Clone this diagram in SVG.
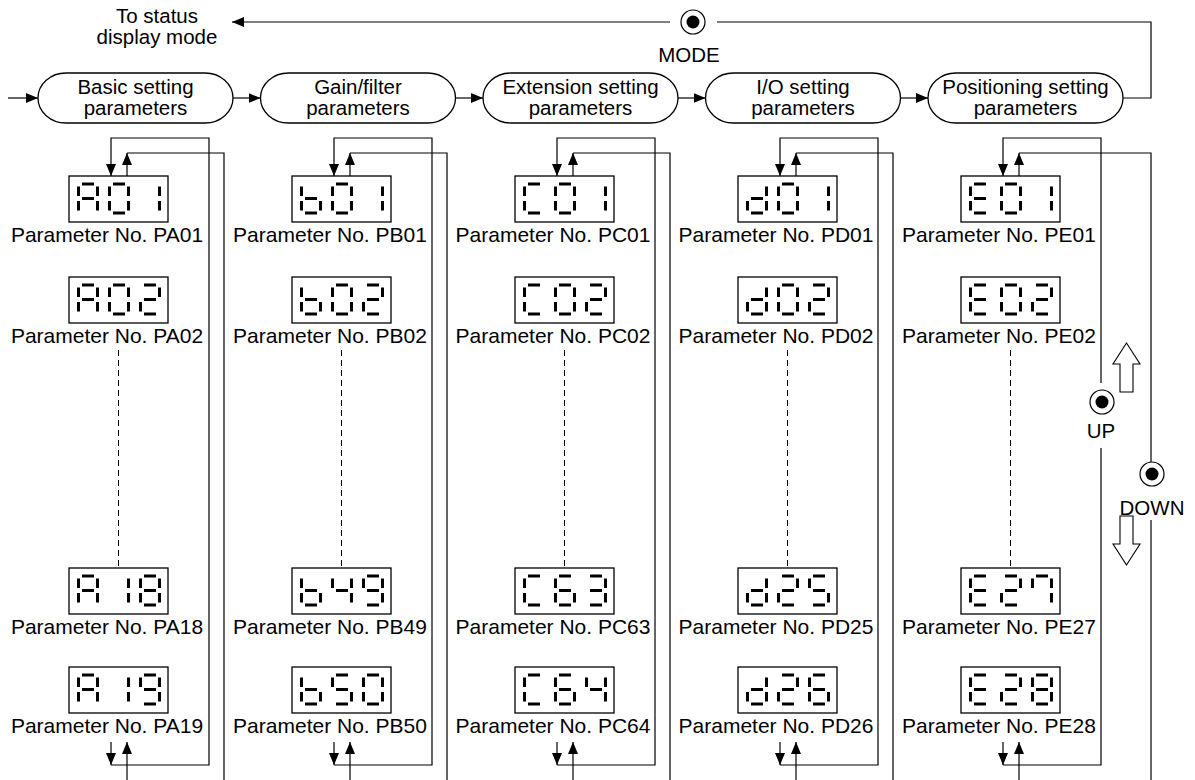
<svg xmlns="http://www.w3.org/2000/svg" width="1195" height="780" viewBox="0 0 1195 780">
<style>
text{font-family:"Liberation Sans",Arial,sans-serif;font-size:20.5px;fill:#000}
text.lb{font-size:21px}
.ln{fill:none;stroke:#000;stroke-width:1.2}
.dash{fill:none;stroke:#000;stroke-width:1;stroke-dasharray:6 4}
.pill{fill:#fff;stroke:#000;stroke-width:1.3}
.box{fill:#fff;stroke:#000;stroke-width:1.3}
.seg{fill:none;stroke:#000;stroke-width:3}
.btn{fill:#fff;stroke:#000;stroke-width:1.2}
.hol{fill:#fff;stroke:#000;stroke-width:1.1}
</style>
<defs>
<marker id="ah" viewBox="0 0 12 10" refX="12" refY="5" markerWidth="12" markerHeight="10" markerUnits="userSpaceOnUse" orient="auto"><path d="M0,0L12,5L0,10z" fill="#000"/></marker>
<path id="sa" d="M5,1.5H17"/>
<path id="sb" d="M20.5,4V13.5"/>
<path id="sc" d="M20.5,18.5V28"/>
<path id="sd" d="M5,30.5H17"/>
<path id="se" d="M1.5,18.5V28"/>
<path id="sf" d="M1.5,4V13.5"/>
<path id="sg" d="M5,16H17"/>
<g id="cA" class="seg"><use href="#sa"/><use href="#sb"/><use href="#sc"/><use href="#se"/><use href="#sf"/><use href="#sg"/></g>
<g id="cb" class="seg"><use href="#sc"/><use href="#sd"/><use href="#se"/><use href="#sf"/><use href="#sg"/></g>
<g id="cC" class="seg"><use href="#sa"/><use href="#sd"/><use href="#se"/><use href="#sf"/></g>
<g id="cd" class="seg"><use href="#sb"/><use href="#sc"/><use href="#sd"/><use href="#se"/><use href="#sg"/></g>
<g id="cE" class="seg"><use href="#sa"/><use href="#sd"/><use href="#se"/><use href="#sf"/><use href="#sg"/></g>
<g id="c0" class="seg"><use href="#sa"/><use href="#sb"/><use href="#sc"/><use href="#sd"/><use href="#se"/><use href="#sf"/></g>
<g id="c1" class="seg"><use href="#sb"/><use href="#sc"/></g>
<g id="c2" class="seg"><use href="#sa"/><use href="#sb"/><use href="#sd"/><use href="#se"/><use href="#sg"/></g>
<g id="c3" class="seg"><use href="#sa"/><use href="#sb"/><use href="#sc"/><use href="#sd"/><use href="#sg"/></g>
<g id="c4" class="seg"><use href="#sb"/><use href="#sc"/><use href="#sf"/><use href="#sg"/></g>
<g id="c5" class="seg"><use href="#sa"/><use href="#sc"/><use href="#sd"/><use href="#sf"/><use href="#sg"/></g>
<g id="c6" class="seg"><use href="#sa"/><use href="#sc"/><use href="#sd"/><use href="#se"/><use href="#sf"/><use href="#sg"/></g>
<g id="c7" class="seg"><use href="#sa"/><use href="#sb"/><use href="#sc"/><use href="#sf"/></g>
<g id="c8" class="seg"><use href="#sa"/><use href="#sb"/><use href="#sc"/><use href="#sd"/><use href="#se"/><use href="#sf"/><use href="#sg"/></g>
<g id="c9" class="seg"><use href="#sa"/><use href="#sb"/><use href="#sc"/><use href="#sd"/><use href="#sf"/><use href="#sg"/></g>
<g id="button"><circle r="12" class="btn"/><circle r="6.5" fill="#000"/></g>
</defs>

<g id="connectors">
<path class="ln" d="M1123,98H1151V22H717"/>
<path class="ln" d="M670,22H232" marker-end="url(#ah)"/>
<path class="ln" d="M8,98H38" marker-end="url(#ah)"/>
<path class="ln" d="M233,98H260.5" marker-end="url(#ah)"/>
<path class="ln" d="M455.5,98H483" marker-end="url(#ah)"/>
<path class="ln" d="M678,98H705.5" marker-end="url(#ah)"/>
<path class="ln" d="M900.5,98H928" marker-end="url(#ah)"/>
<!-- column 1 -->
<path class="ln" d="M111,742V765" marker-end="url(#ah)"/>
<path class="ln" d="M111,765H209V138H111V176" marker-end="url(#ah)"/>
<path class="ln" d="M127,780V742" marker-end="url(#ah)"/>
<path class="ln" d="M127,176V153" marker-end="url(#ah)"/>
<path class="ln" d="M127,153H224V780"/>
<path class="dash" d="M118.5,350V568"/>
<!-- column 2 -->
<path class="ln" d="M334,742V765" marker-end="url(#ah)"/>
<path class="ln" d="M334,765H432V138H334V176" marker-end="url(#ah)"/>
<path class="ln" d="M350,780V742" marker-end="url(#ah)"/>
<path class="ln" d="M350,176V153" marker-end="url(#ah)"/>
<path class="ln" d="M350,153H447V780"/>
<path class="dash" d="M341.5,350V568"/>
<!-- column 3 -->
<path class="ln" d="M557,742V765" marker-end="url(#ah)"/>
<path class="ln" d="M557,765H655V138H557V176" marker-end="url(#ah)"/>
<path class="ln" d="M573,780V742" marker-end="url(#ah)"/>
<path class="ln" d="M573,176V153" marker-end="url(#ah)"/>
<path class="ln" d="M573,153H670V780"/>
<path class="dash" d="M564.5,350V568"/>
<!-- column 4 -->
<path class="ln" d="M780,742V765" marker-end="url(#ah)"/>
<path class="ln" d="M780,765H878V138H780V176" marker-end="url(#ah)"/>
<path class="ln" d="M796,780V742" marker-end="url(#ah)"/>
<path class="ln" d="M796,176V153" marker-end="url(#ah)"/>
<path class="ln" d="M796,153H893V780"/>
<path class="dash" d="M787.5,350V568"/>
<!-- column 5 -->
<path class="ln" d="M1003,742V765" marker-end="url(#ah)"/>
<path class="ln" d="M1003,765H1101V448"/>
<path class="ln" d="M1101,383V138H1003V176" marker-end="url(#ah)"/>
<path class="ln" d="M1019,780V742" marker-end="url(#ah)"/>
<path class="ln" d="M1019,176V153" marker-end="url(#ah)"/>
<path class="ln" d="M1019,153H1151V462"/>
<path class="ln" d="M1151,520V780"/>
<path class="dash" d="M1010.5,350V568"/>
</g>

<g id="status-mode"><text x="157" y="23" text-anchor="middle">To status</text><text x="157" y="44" text-anchor="middle">display mode</text></g>
<g id="mode-button"><use href="#button" x="693" y="22"/><text x="689" y="62" text-anchor="middle">MODE</text></g>
<g id="up-button"><use href="#button" x="1102" y="402"/><text x="1101" y="438" text-anchor="middle">UP</text>
<polygon class="hol" points="1126.5,343 1140,364 1133,364 1133,392 1120,392 1120,364 1113,364"/></g>
<g id="down-button"><use href="#button" x="1152" y="474"/><text x="1152" y="515" text-anchor="middle">DOWN</text>
<polygon class="hol" points="1126.5,565 1140,544 1133,544 1133,516 1120,516 1120,544 1113,544"/></g>

<g id="pill-basic"><rect class="pill" x="38" y="73" width="195" height="50" rx="28" ry="25"/><text x="135.5" y="94" text-anchor="middle">Basic setting</text><text x="135.5" y="115" text-anchor="middle">parameters</text></g>
<g id="pill-gain"><rect class="pill" x="260.5" y="73" width="195" height="50" rx="28" ry="25"/><text x="358" y="94" text-anchor="middle">Gain/filter</text><text x="358" y="115" text-anchor="middle">parameters</text></g>
<g id="pill-ext"><rect class="pill" x="483" y="73" width="195" height="50" rx="28" ry="25"/><text x="580.5" y="94" text-anchor="middle">Extension setting</text><text x="580.5" y="115" text-anchor="middle">parameters</text></g>
<g id="pill-io"><rect class="pill" x="705.5" y="73" width="195" height="50" rx="28" ry="25"/><text x="803" y="94" text-anchor="middle">I/O setting</text><text x="803" y="115" text-anchor="middle">parameters</text></g>
<g id="pill-pos"><rect class="pill" x="928" y="73" width="195" height="50" rx="28" ry="25"/><text x="1025.5" y="94" text-anchor="middle">Positioning setting</text><text x="1025.5" y="115" text-anchor="middle">parameters</text></g>

<!-- column 1 displays -->
<g id="PA01"><rect class="box" x="69" y="176" width="99" height="46"/><use href="#cA" x="77" y="182.5"/><use href="#c0" x="108" y="182.5"/><use href="#c1" x="139" y="182.5"/><text class="lb" x="107" y="242" text-anchor="middle">Parameter No. PA01</text></g>
<g id="PA02"><rect class="box" x="69" y="277" width="99" height="46"/><use href="#cA" x="77" y="283.5"/><use href="#c0" x="108" y="283.5"/><use href="#c2" x="139" y="283.5"/><text class="lb" x="107" y="343" text-anchor="middle">Parameter No. PA02</text></g>
<g id="PA18"><rect class="box" x="69" y="568" width="99" height="46"/><use href="#cA" x="77" y="574.5"/><use href="#c1" x="108" y="574.5"/><use href="#c8" x="139" y="574.5"/><text class="lb" x="107" y="634" text-anchor="middle">Parameter No. PA18</text></g>
<g id="PA19"><rect class="box" x="69" y="667" width="99" height="46"/><use href="#cA" x="77" y="673.5"/><use href="#c1" x="108" y="673.5"/><use href="#c9" x="139" y="673.5"/><text class="lb" x="107" y="733" text-anchor="middle">Parameter No. PA19</text></g>
<!-- column 2 -->
<g id="PB01"><rect class="box" x="292" y="176" width="99" height="46"/><use href="#cb" x="300" y="182.5"/><use href="#c0" x="331" y="182.5"/><use href="#c1" x="362" y="182.5"/><text class="lb" x="330" y="242" text-anchor="middle">Parameter No. PB01</text></g>
<g id="PB02"><rect class="box" x="292" y="277" width="99" height="46"/><use href="#cb" x="300" y="283.5"/><use href="#c0" x="331" y="283.5"/><use href="#c2" x="362" y="283.5"/><text class="lb" x="330" y="343" text-anchor="middle">Parameter No. PB02</text></g>
<g id="PB49"><rect class="box" x="292" y="568" width="99" height="46"/><use href="#cb" x="300" y="574.5"/><use href="#c4" x="331" y="574.5"/><use href="#c9" x="362" y="574.5"/><text class="lb" x="330" y="634" text-anchor="middle">Parameter No. PB49</text></g>
<g id="PB50"><rect class="box" x="292" y="667" width="99" height="46"/><use href="#cb" x="300" y="673.5"/><use href="#c5" x="331" y="673.5"/><use href="#c0" x="362" y="673.5"/><text class="lb" x="330" y="733" text-anchor="middle">Parameter No. PB50</text></g>
<!-- column 3 -->
<g id="PC01"><rect class="box" x="515" y="176" width="99" height="46"/><use href="#cC" x="523" y="182.5"/><use href="#c0" x="554" y="182.5"/><use href="#c1" x="585" y="182.5"/><text class="lb" x="553" y="242" text-anchor="middle">Parameter No. PC01</text></g>
<g id="PC02"><rect class="box" x="515" y="277" width="99" height="46"/><use href="#cC" x="523" y="283.5"/><use href="#c0" x="554" y="283.5"/><use href="#c2" x="585" y="283.5"/><text class="lb" x="553" y="343" text-anchor="middle">Parameter No. PC02</text></g>
<g id="PC63"><rect class="box" x="515" y="568" width="99" height="46"/><use href="#cC" x="523" y="574.5"/><use href="#c6" x="554" y="574.5"/><use href="#c3" x="585" y="574.5"/><text class="lb" x="553" y="634" text-anchor="middle">Parameter No. PC63</text></g>
<g id="PC64"><rect class="box" x="515" y="667" width="99" height="46"/><use href="#cC" x="523" y="673.5"/><use href="#c6" x="554" y="673.5"/><use href="#c4" x="585" y="673.5"/><text class="lb" x="553" y="733" text-anchor="middle">Parameter No. PC64</text></g>
<!-- column 4 -->
<g id="PD01"><rect class="box" x="738" y="176" width="99" height="46"/><use href="#cd" x="746" y="182.5"/><use href="#c0" x="777" y="182.5"/><use href="#c1" x="808" y="182.5"/><text class="lb" x="776" y="242" text-anchor="middle">Parameter No. PD01</text></g>
<g id="PD02"><rect class="box" x="738" y="277" width="99" height="46"/><use href="#cd" x="746" y="283.5"/><use href="#c0" x="777" y="283.5"/><use href="#c2" x="808" y="283.5"/><text class="lb" x="776" y="343" text-anchor="middle">Parameter No. PD02</text></g>
<g id="PD25"><rect class="box" x="738" y="568" width="99" height="46"/><use href="#cd" x="746" y="574.5"/><use href="#c2" x="777" y="574.5"/><use href="#c5" x="808" y="574.5"/><text class="lb" x="776" y="634" text-anchor="middle">Parameter No. PD25</text></g>
<g id="PD26"><rect class="box" x="738" y="667" width="99" height="46"/><use href="#cd" x="746" y="673.5"/><use href="#c2" x="777" y="673.5"/><use href="#c6" x="808" y="673.5"/><text class="lb" x="776" y="733" text-anchor="middle">Parameter No. PD26</text></g>
<!-- column 5 -->
<g id="PE01"><rect class="box" x="961" y="176" width="99" height="46"/><use href="#cE" x="969" y="182.5"/><use href="#c0" x="1000" y="182.5"/><use href="#c1" x="1031" y="182.5"/><text class="lb" x="999" y="242" text-anchor="middle">Parameter No. PE01</text></g>
<g id="PE02"><rect class="box" x="961" y="277" width="99" height="46"/><use href="#cE" x="969" y="283.5"/><use href="#c0" x="1000" y="283.5"/><use href="#c2" x="1031" y="283.5"/><text class="lb" x="999" y="343" text-anchor="middle">Parameter No. PE02</text></g>
<g id="PE27"><rect class="box" x="961" y="568" width="99" height="46"/><use href="#cE" x="969" y="574.5"/><use href="#c2" x="1000" y="574.5"/><use href="#c7" x="1031" y="574.5"/><text class="lb" x="999" y="634" text-anchor="middle">Parameter No. PE27</text></g>
<g id="PE28"><rect class="box" x="961" y="667" width="99" height="46"/><use href="#cE" x="969" y="673.5"/><use href="#c2" x="1000" y="673.5"/><use href="#c8" x="1031" y="673.5"/><text class="lb" x="999" y="733" text-anchor="middle">Parameter No. PE28</text></g>
</svg>
